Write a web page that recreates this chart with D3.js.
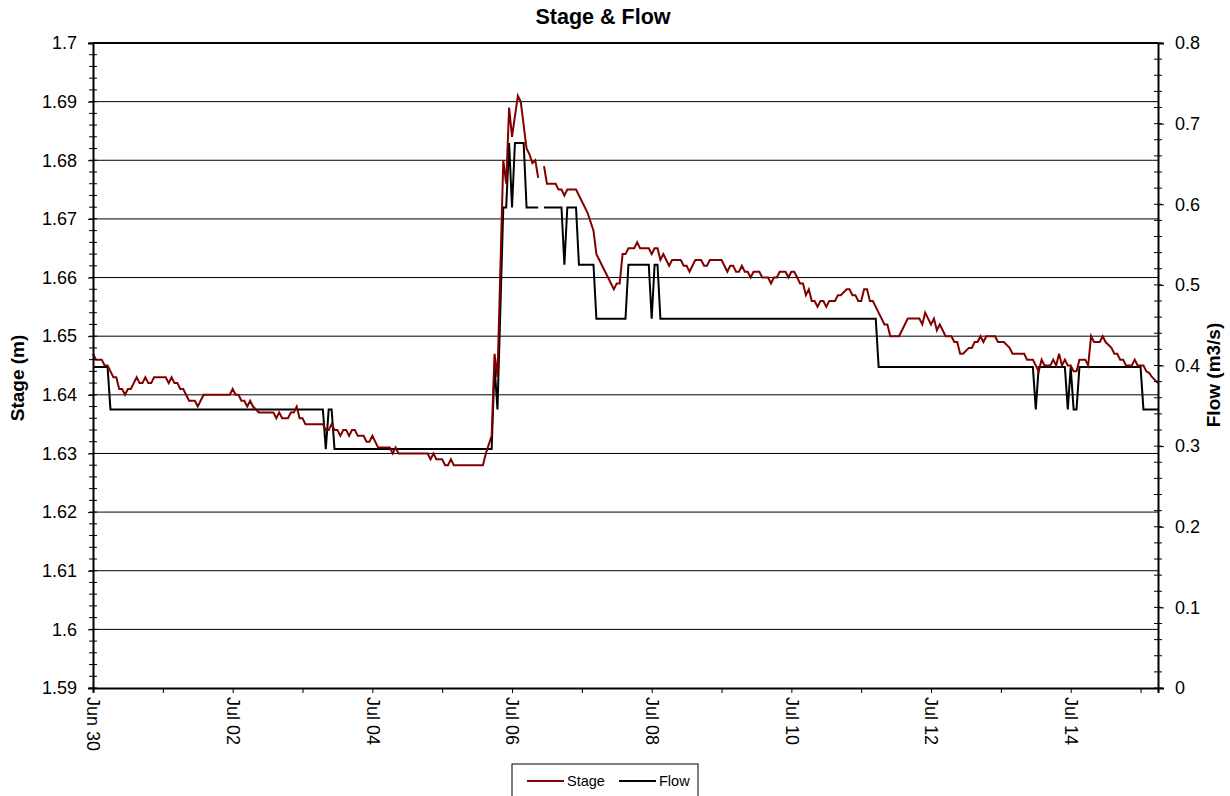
<!DOCTYPE html>
<html>
<head>
<meta charset="utf-8">
<script src="https://cdn.jsdelivr.net/npm/d3@7"></script>
<style>
  body { margin: 0; background: #fff; }
  svg text { font-family: "Liberation Sans", Arial, sans-serif; }
</style>
</head>
<body>
<svg id="chart" width="1230" height="796"></svg>
<script>
// hours since Jun 30 00:00, stage in m (null = missing reading)
const stagePoints = [
  [0,1.647],[1,1.646],[3,1.646],[4,1.645],[5,1.645],[6,1.644],[7,1.643],[8,1.643],[9,1.641],[10,1.641],
  [11,1.640],[12,1.641],[13,1.641],[14,1.642],[15,1.643],[16,1.642],[17,1.642],[18,1.643],[19,1.642],[20,1.642],
  [21,1.643],[25,1.643],[26,1.642],[27,1.643],[28,1.642],[29,1.642],[30,1.641],[31,1.641],[32,1.640],[33,1.639],
  [35,1.639],[36,1.638],[38,1.640],[47,1.640],[48,1.641],[49,1.640],[50,1.640],[51,1.639],[52,1.639],[53,1.638],
  [54,1.639],[55,1.638],[57,1.637],[62,1.637],[63,1.636],[64,1.637],[65,1.636],[67,1.636],[68,1.637],[69,1.637],
  [70,1.638],[71,1.636],[72,1.636],[73,1.635],[79,1.635],[80,1.634],[81,1.634],[82,1.635],[83,1.634],[84,1.634],
  [85,1.633],[86,1.634],[87,1.634],[88,1.633],[89,1.634],[90,1.634],[91,1.633],[93,1.633],[94,1.632],[95,1.632],
  [96,1.633],[98,1.631],[102,1.631],[103,1.630],[104,1.631],[105,1.630],[115,1.630],[116,1.629],[117,1.630],[118,1.629],
  [120,1.629],[121,1.628],[122,1.628],[123,1.629],[124,1.628],[134,1.628],[135,1.630],[137,1.633],[138,1.647],[139,1.643],
  [141,1.680],[142,1.676],[143,1.689],[144,1.684],[146,1.691],[147,1.690],[148,1.686],[149,1.682],[150,1.681],[151,1.6795],
  [152,1.680],[153,1.677],[154,null],[155,1.679],[156,1.676],[159,1.676],[160,1.675],[161,1.675],[162,1.674],[163,1.675],
  [166,1.675],[168,1.673],[170,1.671],[172,1.668],[173,1.664],[179,1.658],[180,1.659],[181,1.659],[182,1.664],[183,1.664],
  [184,1.665],[186,1.665],[187,1.666],[188,1.665],[191,1.665],[192,1.664],[193,1.665],[194,1.665],[195,1.663],[196,1.664],
  [197,1.663],[198,1.662],[199,1.663],[202,1.663],[203,1.662],[204,1.662],[205,1.661],[206,1.662],[207,1.663],[209,1.663],
  [210,1.662],[211,1.662],[212,1.663],[216,1.663],[217,1.662],[218,1.661],[219,1.662],[220,1.662],[221,1.661],[222,1.661],
  [223,1.662],[224,1.661],[225,1.661],[226,1.660],[227,1.661],[229,1.661],[230,1.660],[232,1.660],[233,1.659],[234,1.660],
  [235,1.660],[236,1.661],[238,1.661],[239,1.660],[240,1.661],[241,1.661],[242,1.660],[243,1.659],[244,1.659],[245,1.657],
  [246,1.658],[247,1.656],[248,1.656],[249,1.655],[250,1.656],[251,1.656],[252,1.655],[253,1.656],[255,1.656],[256,1.657],
  [257,1.657],[259,1.658],[260,1.658],[261,1.657],[262,1.657],[263,1.656],[264,1.656],[265,1.658],[266,1.658],[267,1.656],
  [268,1.656],[269,1.655],[271,1.653],[272,1.652],[273,1.652],[274,1.650],[277,1.650],[279,1.652],[280,1.653],[284,1.653],
  [285,1.652],[286,1.654],[287,1.653],[288,1.652],[289,1.653],[290,1.651],[291,1.652],[292,1.651],[293,1.650],[295,1.650],
  [296,1.649],[297,1.649],[298,1.647],[299,1.647],[301,1.648],[302,1.648],[303,1.649],[304,1.649],[305,1.650],[306,1.649],
  [307,1.650],[310,1.650],[311,1.649],[313,1.649],[315,1.648],[316,1.647],[320,1.647],[321,1.646],[323,1.646],[324,1.645],
  [325,1.644],[326,1.646],[327,1.645],[329,1.645],[330,1.646],[331,1.645],[332,1.647],[333,1.645],[334,1.646],[335,1.645],
  [336,1.645],[337,1.644],[338,1.644],[339,1.646],[341,1.646],[342,1.645],[343,1.650],[344,1.649],[346,1.649],[347,1.650],
  [348,1.649],[349,1.6485],[350,1.648],[351,1.647],[352,1.647],[353,1.646],[354,1.646],[355,1.645],[357,1.645],[358,1.646],
  [359,1.645],[361,1.645],[362,1.644],[363,1.6437],[364,1.643],[366,1.642]
];

// hours since Jun 30 00:00, flow in m3/s
const flowPoints = [
  [0,0.398],[5,0.398],[6,0.3455],[79,0.3455],[80,0.2963],[81,0.3455],[82,0.3455],[83,0.2963],[137,0.2963],[138,0.400],
  [139,0.3455],[141,0.596],[142,0.596],[143,0.676],[144,0.596],[145,0.676],[148,0.676],[149,0.596],[153,0.596],[154,null],
  [155,0.596],[161,0.596],[162,0.525],[163,0.596],[166,0.596],[167,0.525],[172,0.525],[173,0.458],[183,0.458],[184,0.525],
  [191,0.525],[192,0.458],[193,0.525],[194,0.525],[195,0.458],[269,0.458],[270,0.398],[323,0.398],[324,0.3455],[325,0.398],
  [334,0.398],[335,0.3455],[336,0.398],[337,0.3455],[338,0.3455],[339,0.398],[360,0.398],[361,0.3455],[366,0.3455]
];

const stageTicks = d3.range(0, 12).map(i => +(1.59 + i * 0.01).toFixed(2));
const flowTicks = d3.range(0, 9).map(i => +(i * 0.1).toFixed(1));
const seriesNames = ["Stage", "Flow"];
const seriesColors = ["#800000", "#000000"];

const startTime = Date.UTC(2009, 5, 30);
const endHour = 366;
const toDate = h => new Date(startTime + h * 3600 * 1000);

const margin = { top: 43, right: 72, bottom: 108, left: 93 };
const width = 1230 - margin.left - margin.right;
const height = 796 - margin.top - margin.bottom;

const svg = d3.select("#chart");
const g = svg.append("g").attr("transform", `translate(${margin.left},${margin.top})`);

const xScale = d3.scaleUtc().domain([toDate(0), toDate(endHour)]).range([0, width]);
const yStage = d3.scaleLinear().domain([1.59, 1.70]).range([height, 0]);
const yFlow = d3.scaleLinear().domain([0, 0.8]).range([height, 0]);

// gridlines
g.append("g").selectAll("line")
  .data(stageTicks.slice(1, -1))
  .join("line")
  .attr("x1", 0).attr("x2", width)
  .attr("y1", d => yStage(d)).attr("y2", d => yStage(d))
  .attr("stroke", "#000").attr("stroke-width", 1);

// top frame
g.append("line")
  .attr("x1", 0).attr("x2", width).attr("y1", 0).attr("y2", 0)
  .attr("stroke", "#000").attr("stroke-width", 2);

// lines
const line = (yScale) => d3.line()
  .defined(d => d[1] != null)
  .x(d => xScale(toDate(d[0])))
  .y(d => yScale(d[1]));

g.append("path")
  .datum(flowPoints)
  .attr("fill", "none")
  .attr("stroke", seriesColors[1])
  .attr("stroke-width", 2)
  .attr("d", line(yFlow));

g.append("path")
  .datum(stagePoints)
  .attr("fill", "none")
  .attr("stroke", seriesColors[0])
  .attr("stroke-width", 2)
  .attr("d", line(yStage));

// minor ticks, crossing the axis
const stageMinor = d3.range(0, 56).map(i => 1.59 + i * 0.002);
const flowMinor = d3.range(0, 41).map(i => i * 0.02);

g.append("g").selectAll("line")
  .data(stageMinor)
  .join("line")
  .attr("x1", -4).attr("x2", 4)
  .attr("y1", d => yStage(d)).attr("y2", d => yStage(d))
  .attr("stroke", "#000");

g.append("g").selectAll("line")
  .data(flowMinor)
  .join("line")
  .attr("x1", width - 4).attr("x2", width + 4)
  .attr("y1", d => yFlow(d)).attr("y2", d => yFlow(d))
  .attr("stroke", "#000");

// axes
const leftAxis = g.append("g")
  .call(d3.axisLeft(yStage).tickValues(stageTicks).tickSize(5).tickPadding(11).tickFormat(d => String(d)));

const rightAxis = g.append("g")
  .attr("transform", `translate(${width},0)`)
  .call(d3.axisRight(yFlow).tickValues(flowTicks).tickSize(6).tickPadding(11).tickFormat(d => String(d)));

const days = d3.utcDay.range(toDate(0), toDate(endHour));
const fmt = d3.utcFormat("%b %d");
const bottomAxis = g.append("g")
  .attr("transform", `translate(0,${height})`)
  .call(d3.axisBottom(xScale).tickValues(days).tickSize(5)
    .tickFormat((d, i) => i % 2 === 0 ? fmt(d) : ""));

bottomAxis.selectAll("text")
  .attr("transform", "rotate(90)")
  .attr("text-anchor", "start")
  .attr("x", 9)
  .attr("y", 0)
  .attr("dy", "0.35em");

[leftAxis, rightAxis, bottomAxis].forEach(a => {
  a.attr("font-family", null).attr("font-size", null);
  a.select(".domain").attr("stroke", "#000").attr("stroke-width", 2);
  a.selectAll(".tick line").attr("stroke", "#000");
  a.selectAll("text").attr("fill", "#000").style("font-size", "18px");
});

// titles
svg.append("text")
  .attr("x", 603).attr("y", 24)
  .attr("text-anchor", "middle")
  .attr("font-weight", "bold")
  .style("font-size", "21.5px")
  .text("Stage & Flow");

svg.append("text")
  .attr("transform", "translate(24,378) rotate(-90)")
  .attr("text-anchor", "middle")
  .attr("font-weight", "bold")
  .style("font-size", "19px")
  .text("Stage (m)");

svg.append("text")
  .attr("transform", "translate(1220,375) rotate(-90)")
  .attr("text-anchor", "middle")
  .attr("font-weight", "bold")
  .style("font-size", "19px")
  .text("Flow (m3/s)");

// legend
const legend = svg.append("g").attr("transform", "translate(512,764)");
legend.append("rect")
  .attr("x", 0).attr("y", 0).attr("width", 186).attr("height", 40)
  .attr("fill", "#fff").attr("stroke", "#000").attr("stroke-width", 1);

const items = legend.selectAll("g.item")
  .data(seriesNames)
  .join("g")
  .attr("class", "item")
  .attr("transform", (d, i) => `translate(${15 + i * 92},17)`);

items.append("line")
  .attr("x1", 0).attr("x2", 37).attr("y1", 0).attr("y2", 0)
  .attr("stroke", (d, i) => seriesColors[i]).attr("stroke-width", 2);

items.append("text")
  .attr("x", 40).attr("y", 5)
  .style("font-size", "14.5px")
  .text(d => d);
</script>
</body>
</html>
